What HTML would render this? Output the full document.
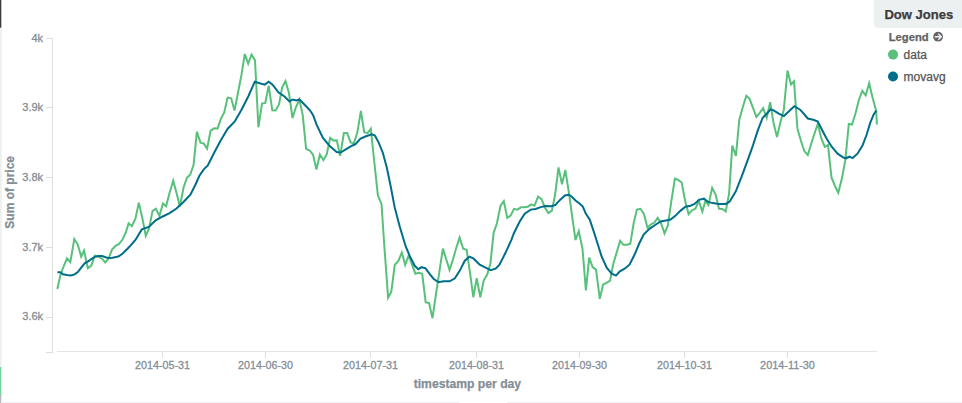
<!DOCTYPE html>
<html><head><meta charset="utf-8"><title>Dow Jones</title>
<style>
html,body{margin:0;padding:0;background:#fff;}
body{width:962px;height:403px;overflow:hidden;font-family:"Liberation Sans",sans-serif;}
svg{display:block;position:absolute;left:0;top:0;}
svg text{font-family:"Liberation Sans",sans-serif;}
.ax line,.ax path{stroke:#ddd;stroke-width:1;fill:none;shape-rendering:crispEdges;}
.ax text{font-size:11px;fill:#848e96;stroke:#848e96;stroke-width:0.3px;}
.ttl{font-size:12px;font-weight:bold;fill:#848e96;stroke:#848e96;stroke-width:0.25px;}
</style></head>
<body>
<svg width="962" height="403" viewBox="0 0 962 403">
<!-- edge decorations -->
<rect x="0" y="28" width="1.8" height="339" fill="#ecf0f1"/>
<rect x="0" y="0" width="1.3" height="27.7" fill="#3a3a3a"/>
<rect x="0" y="367" width="1.3" height="28" fill="#6fd398"/>
<rect x="0" y="395" width="1.3" height="8" fill="#b4b9bc"/>
<rect x="2" y="402" width="457" height="1" fill="#ecf0f1"/>
<rect x="507" y="402" width="455" height="1" fill="#ecf0f1"/>
<!-- label -->
<path d="M874 0H962V28H878a4 4 0 0 1 -4 -4Z" fill="#ecf0f1"/>
<text x="884.4" y="19" font-size="13" font-weight="bold" fill="#3c3c3c" stroke="#3c3c3c" stroke-width="0.25" textLength="68.8" lengthAdjust="spacingAndGlyphs">Dow Jones</text>
<!-- legend -->
<text x="888.7" y="40.6" font-size="11.2" font-weight="bold" fill="#636363" stroke="#636363" stroke-width="0.25" textLength="40" lengthAdjust="spacingAndGlyphs">Legend</text>
<g transform="translate(938.1,36.7)">
<circle r="4.9" fill="#666"/>
<path d="M-3.3 0H2.4M0.2 -3L3.2 0L0.2 3" fill="none" stroke="#f2f2f2" stroke-width="1.35" stroke-linejoin="miter"/>
</g>
<circle cx="893" cy="54.6" r="5" fill="#57c17b"/>
<text x="903.6" y="58.6" font-size="12" fill="#555" stroke="#555" stroke-width="0.25">data</text>
<circle cx="893" cy="76.5" r="5" fill="#006e8a"/>
<text x="903.6" y="80.6" font-size="12" fill="#555" stroke="#555" stroke-width="0.25">movavg</text>
<!-- axes -->
<g class="ax">
<path d="M46 38.5H52.5V352.5H46"/>
<line x1="46" x2="52.5" y1="107.8" y2="107.8"/><line x1="46" x2="52.5" y1="177.6" y2="177.6"/><line x1="46" x2="52.5" y1="247.3" y2="247.3"/><line x1="46" x2="52.5" y1="317.1" y2="317.1"/>
<text x="43.1" y="41.8" text-anchor="end">4k</text><text x="43.1" y="111.1" text-anchor="end">3.9k</text><text x="43.1" y="180.9" text-anchor="end">3.8k</text><text x="43.1" y="250.6" text-anchor="end">3.7k</text><text x="43.1" y="320.4" text-anchor="end">3.6k</text>
<line x1="57" x2="877" y1="351.5" y2="351.5" style="stroke:#e4e4e4"/>
<line x1="162.5" x2="162.5" y1="351.5" y2="357.5"/><line x1="265.5" x2="265.5" y1="351.5" y2="357.5"/><line x1="370.5" x2="370.5" y1="351.5" y2="357.5"/><line x1="476.5" x2="476.5" y1="351.5" y2="357.5"/><line x1="579.5" x2="579.5" y1="351.5" y2="357.5"/><line x1="684.5" x2="684.5" y1="351.5" y2="357.5"/><line x1="787.5" x2="787.5" y1="351.5" y2="357.5"/>
<text x="162.5" y="369" text-anchor="middle" textLength="54.8" lengthAdjust="spacingAndGlyphs">2014-05-31</text><text x="265.5" y="369" text-anchor="middle" textLength="54.8" lengthAdjust="spacingAndGlyphs">2014-06-30</text><text x="370.5" y="369" text-anchor="middle" textLength="54.8" lengthAdjust="spacingAndGlyphs">2014-07-31</text><text x="476.5" y="369" text-anchor="middle" textLength="54.8" lengthAdjust="spacingAndGlyphs">2014-08-31</text><text x="579.5" y="369" text-anchor="middle" textLength="54.8" lengthAdjust="spacingAndGlyphs">2014-09-30</text><text x="684.5" y="369" text-anchor="middle" textLength="54.8" lengthAdjust="spacingAndGlyphs">2014-10-31</text><text x="787.5" y="369" text-anchor="middle" textLength="54.8" lengthAdjust="spacingAndGlyphs">2014-11-30</text>
</g>
<text class="ttl" x="467.4" y="387.6" text-anchor="middle" textLength="107.4" lengthAdjust="spacingAndGlyphs">timestamp per day</text>
<text class="ttl" transform="translate(13.5,192.3) rotate(-90)" text-anchor="middle">Sum of price</text>
<!-- series -->
<polyline fill="none" stroke="#57c17b" stroke-width="2" points="57.3,289.0 60.6,274.5 64.0,265.5 67.0,258.3 70.3,262.2 74.3,239.1 77.8,244.8 81.2,256.6 84.0,250.6 87.8,268.3 91.3,265.6 94.7,255.8 98.6,256.7 102.0,258.7 105.2,262.5 108.5,258.7 111.9,249.8 115.5,245.8 118.8,244.2 122.4,239.8 126.0,231.9 128.6,223.3 131.9,226.2 135.5,218.5 138.8,202.6 142.2,217.5 145.8,235.8 149.2,228.0 152.5,211.1 155.9,208.7 159.4,215.9 163.0,203.5 166.1,206.2 169.6,192.7 173.2,180.7 176.5,192.7 179.9,206.5 183.5,187.7 186.9,177.8 190.2,174.8 193.6,164.9 196.9,131.7 200.5,142.6 203.8,143.6 207.1,148.6 210.6,130.7 214.2,128.3 217.5,128.6 220.9,118.8 224.3,112.2 227.6,97.6 231.2,98.3 234.5,110.6 237.9,93.2 241.5,74.7 244.8,54.0 248.2,63.6 251.6,54.5 255.0,60.4 258.4,127.3 262.0,103.6 265.3,103.0 268.7,85.6 272.3,110.3 275.6,110.4 279.0,104.5 282.1,87.6 285.5,81.2 288.9,92.6 292.5,118.0 295.8,107.5 299.3,99.5 302.7,114.8 306.1,148.9 309.7,150.5 313.1,154.8 316.4,169.5 319.9,154.5 323.4,160.1 326.7,154.4 330.2,137.9 333.5,140.6 336.8,140.3 340.1,155.8 343.9,133.1 347.2,133.1 350.6,142.5 353.8,143.4 357.3,132.6 360.9,110.8 364.2,132.2 367.6,133.1 370.8,128.7 374.3,162.0 377.9,195.5 381.5,203.9 384.5,248.5 388.1,297.7 391.3,291.6 394.8,264.8 398.4,260.9 401.8,252.6 405.2,265.0 408.7,255.2 412.1,264.8 415.4,273.7 418.8,272.8 422.2,273.8 425.7,302.4 429.0,302.9 432.5,318.2 435.9,294.6 439.3,272.2 442.9,248.6 446.3,259.5 449.5,269.9 452.9,259.7 456.3,247.8 459.6,237.6 463.2,248.8 466.6,249.8 470.0,272.6 473.3,297.2 476.7,278.2 480.3,297.2 483.7,280.6 487.2,274.6 490.4,263.7 493.6,232.9 496.9,223.5 500.5,205.7 503.8,201.2 507.3,217.9 510.6,215.6 514.0,208.8 517.4,209.6 520.9,207.3 524.3,207.3 527.7,206.7 531.3,204.3 534.5,205.6 538.1,196.5 541.6,199.1 544.9,207.7 548.5,213.1 551.9,210.6 555.1,194.8 558.5,167.4 562.0,184.3 565.3,170.0 568.9,192.7 572.3,217.5 575.5,240.0 578.8,231.1 582.5,248.8 585.9,290.5 589.2,257.7 592.6,267.1 596.0,269.6 599.8,298.8 603.1,284.5 606.5,282.9 610.1,280.6 613.3,263.7 616.6,252.8 620.1,240.9 623.4,244.8 626.9,244.8 630.3,243.8 633.6,223.5 636.9,209.6 640.5,208.8 644.0,214.2 647.5,227.8 650.8,224.5 654.4,222.5 657.7,217.9 661.1,223.5 664.5,233.4 667.9,225.5 671.4,200.7 674.9,178.7 678.2,179.9 681.7,182.5 685.1,200.7 688.6,214.2 692.1,210.2 695.4,208.7 698.8,200.9 702.3,211.6 705.4,201.0 708.4,205.0 712.2,187.9 715.6,194.6 719.0,208.7 722.4,209.0 725.7,211.5 729.1,193.6 732.3,145.6 735.9,156.0 739.3,119.7 742.9,106.8 746.3,95.8 749.6,98.8 753.0,107.8 756.4,117.0 759.9,112.7 763.2,108.2 766.7,117.8 770.2,102.2 773.6,123.3 777.0,137.1 780.6,121.6 783.8,109.7 787.5,70.5 791.0,84.4 794.0,81.3 797.4,128.4 800.9,140.8 804.3,151.1 807.8,155.0 811.2,143.8 814.6,133.3 817.8,123.8 821.3,138.4 824.8,146.9 828.0,145.1 831.5,177.5 835.0,186.0 838.3,192.8 842.0,178.1 845.4,159.6 848.8,124.0 852.0,124.6 855.5,113.5 858.9,99.7 862.3,90.8 865.7,95.4 869.2,83.3 872.6,97.7 876.2,111.0 876.9,124.5"/>
<polyline fill="none" stroke="#006e8a" stroke-width="2" points="57.4,272.3 60.4,272.3 63,274.2 67,275 70.5,275.4 74.2,274.6 77.8,272 81.2,267.6 84.7,263.3 88.1,261.3 91.7,258.9 95.2,256.7 98.6,256.1 102,256.1 105.6,257.3 108.9,258.1 112.5,257.7 115.9,257.1 118.8,256.3 122.4,253.7 126,250.2 129.4,246.8 135.6,239.7 141.8,229.4 148.8,227 155.7,220.4 162.7,216.5 169.6,213.1 176.5,208.5 183.5,202 190.4,194.6 195.4,184.7 199.4,175.8 203.8,169.4 207.8,165.4 214.8,151.5 220.7,140.6 227.7,128.7 234.6,121.7 241.5,109.8 248.5,96 254.8,81.7 259.7,83.3 264.7,84.6 268.7,81.7 272.6,84.6 278.6,92.6 284.5,96.5 289.5,101.5 292.5,99.5 296.4,100.5 299.4,99.5 304.9,105 309.9,110.3 313,114.9 316.8,125.2 322.8,137.6 329.7,146.1 336.7,152.1 340.6,152.5 346.6,148.9 352.5,145.5 355.5,144.1 360.5,138.5 366,136.3 371.9,134.3 374.9,135.5 378.8,142.8 382.8,152.7 386.8,167.6 390.8,187 394.8,207.9 399.8,226.7 405.7,246.5 409.7,255.9 414.7,265.8 418.3,269.2 421.6,267.2 425.6,268.4 429.6,273.8 433.5,278.7 438.5,282.3 443.5,281.3 449.6,281.3 454.9,278.3 459.8,270.6 464.8,260.7 469.4,256.7 473.7,258.7 479.7,264.7 485.6,267.7 490.6,270.2 495.6,268.7 499.5,264.7 505.5,252.8 511.4,239.9 513.8,233.5 519.7,221.5 524.7,213.6 530.7,209.6 535.6,209 540.6,207.1 545.5,206.1 551.5,206.3 555.5,204.9 560,199.9 564.9,195.5 568.9,194.7 571.9,196.7 575.8,200.7 579.8,203.7 582.8,206.6 585.8,213.6 589.7,219.5 593.7,231.4 596.2,239.2 601.7,256.7 606.7,267.7 611.7,273.6 616,275.6 619.6,271.6 624.6,268.7 629.5,264.7 634.5,254.8 639.2,243.5 643.8,234.4 649.8,228.6 655.8,224.5 660.7,221.5 665.7,220.6 670.6,219.6 675.6,215.6 680.6,210.6 685.5,206.7 690.5,205.7 694.6,204 699,199.8 703.9,198.7 707.9,201.9 712.9,203.1 718.8,203.9 725.8,203.9 729.7,201.5 735.7,191.6 741.6,176.7 747.6,160.4 752.7,146.2 757.7,130.6 762.7,117.7 766.7,113.7 770.6,109.4 773.6,110.3 778.8,113.6 783.9,116.1 788.7,111.6 794.3,106.2 800.1,109.7 804,114 807.8,118.5 813.3,119.8 817.8,121.5 821.7,129.2 826.7,138.8 831.7,146.7 837.6,153.7 842.6,157.1 845.6,158.3 849.5,156.7 852.5,158.1 857.5,153.7 862.5,145.5 866.5,135 870.3,122.7 873.6,114.6 876.2,110.6"/>
</svg>
</body></html>
